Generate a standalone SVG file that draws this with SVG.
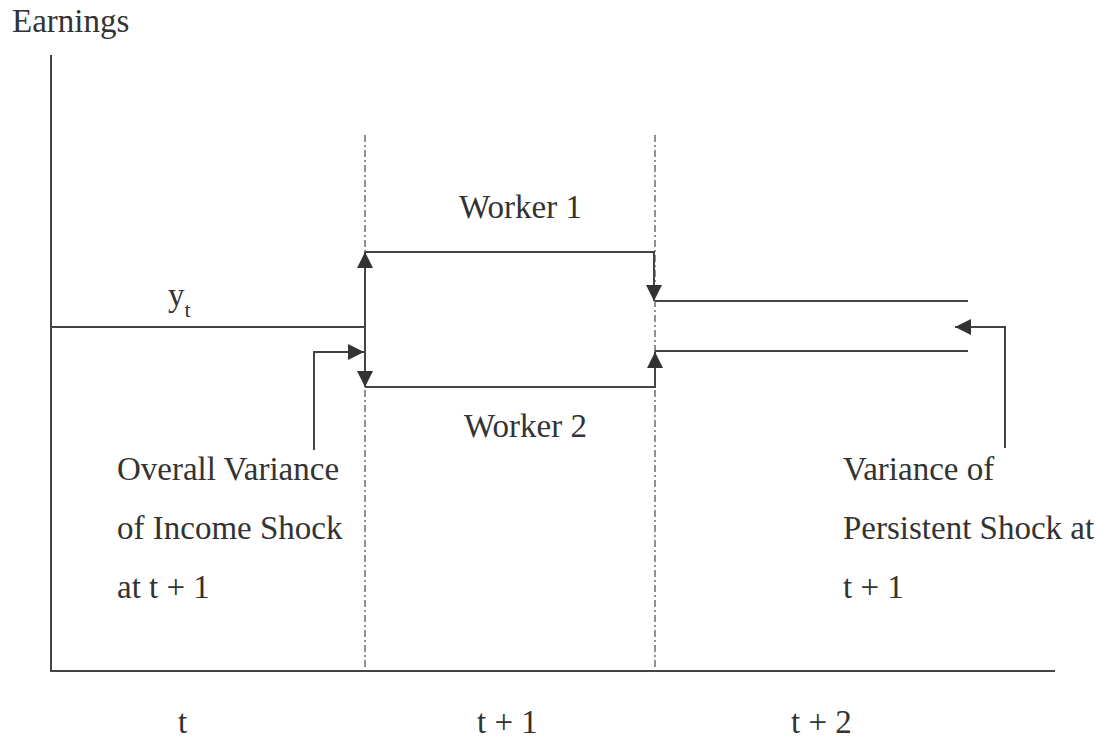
<svg xmlns="http://www.w3.org/2000/svg" width="1105" height="740" viewBox="0 0 1105 740">
<style>
.t{font-size:33px;fill:#333}
.ln{fill:none;stroke:#444;stroke-width:2}
.ds{fill:none;stroke:#555;stroke-width:1.3;stroke-dasharray:7 3 2 3}
</style>
<defs>
<marker id="ah" viewBox="0 0 16 16" refX="16" refY="8" markerWidth="16" markerHeight="16" markerUnits="userSpaceOnUse" orient="auto-start-reverse">
<path d="M0,0 L16,8 L0,16 z" fill="#333"/>
</marker>
</defs>
<rect width="1105" height="740" fill="#fff"/>
<g id="axes">
<path class="ln" d="M51 55 V671 H1055"/>
<path class="ds" d="M365 135 V671"/>
<path class="ds" d="M655 135 V671"/>
</g>
<g id="connectors">
<path class="ln" d="M51 327 H365"/>
<path class="ln" d="M365 387 V252" marker-start="url(#ah)" marker-end="url(#ah)"/>
<path class="ln" d="M365 252 H654 V301" marker-end="url(#ah)"/>
<path class="ln" d="M655 301 H968"/>
<path class="ln" d="M365 387 H655 V352" marker-end="url(#ah)"/>
<path class="ln" d="M655 351 H968"/>
<path class="ln" d="M314 450 V352 H364" marker-end="url(#ah)"/>
<path class="ln" d="M1005 448 V327 H955" marker-end="url(#ah)"/>
</g>
<g font-family="'Liberation Serif', Tinos, 'Times New Roman', 'DejaVu Serif', serif">
<g id="labels">
<text class="t" x="12" y="32" font-size="32">Earnings</text>
<text class="t" x="459" y="218">Worker 1</text>
<text class="t" x="464" y="437">Worker 2</text>
<text class="t" x="168" y="306">y<tspan font-size="22" dy="11">t</tspan></text>
<text class="t" x="178" y="733">t</text>
<text class="t" x="477" y="733">t + 1</text>
<text class="t" x="791" y="733">t + 2</text>
</g>
<g id="note-overall">
<text class="t" x="117" y="480">Overall Variance</text>
<text class="t" x="117" y="539">of Income Shock</text>
<text class="t" x="117" y="598">at t + 1</text>
</g>
<g id="note-persistent">
<text class="t" x="843" y="480">Variance of</text>
<text class="t" x="843" y="539">Persistent Shock at</text>
<text class="t" x="843" y="598">t + 1</text>
</g>
</g>
</svg>
